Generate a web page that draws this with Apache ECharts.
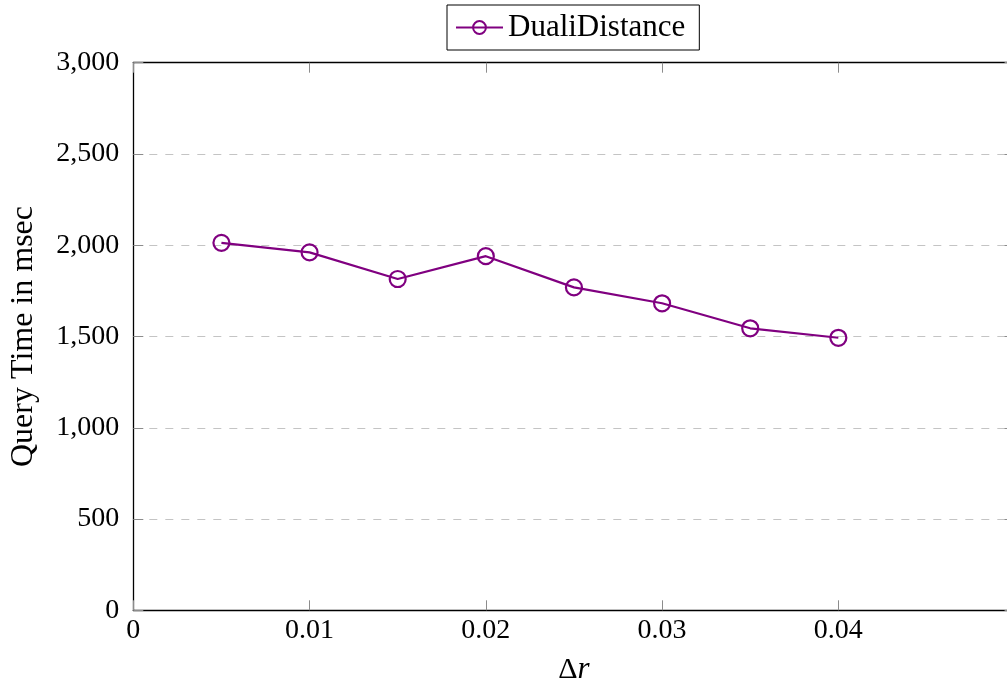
<!DOCTYPE html>
<html>
<head>
<meta charset="utf-8">
<script src="https://cdn.jsdelivr.net/npm/echarts@6/dist/echarts.min.js"></script>
<style>
  html, body { margin: 0; padding: 0; background: #fff; overflow: hidden; width: 1007px; height: 686px; }
  /* the plot box runs a little past the right edge of the page */
  #chart { width: 1020px; height: 686px; }
</style>
</head>
<body>
<div id="chart"></div>
<script>
// Query time for DualiDistance as the radius step Δr grows
const deltaR = [0.005, 0.01, 0.015, 0.02, 0.025, 0.03, 0.035, 0.04];
const queryTimeMs = [2013, 1961, 1815, 1940, 1769, 1682, 1545, 1493];
const seriesName = 'DualiDistance';

const FONT = '"Liberation Serif", "DejaVu Serif", serif';
const PURPLE = '#800080';

const chart = echarts.init(document.getElementById('chart'), null, { renderer: 'canvas' });

// short grey ticks pointing into the plot, mirrored on all four sides
const tickStyle = { show: true, inside: true, length: 10, lineStyle: { color: '#8c8c8c', width: 1 } };

chart.setOption({
  animation: false,
  backgroundColor: '#fff',
  textStyle: { fontFamily: FONT },
  legend: {
    top: 5,
    left: 447,
    padding: [7, 14, 7, 8],
    borderColor: '#000',
    borderWidth: 1,
    borderRadius: 0,
    itemWidth: 47,
    itemHeight: 16,
    itemGap: 6,
    textStyle: { fontFamily: FONT, fontSize: 31, color: '#000' },
    data: [seriesName]
  },
  grid: { left: 133.3, top: 62.7, bottom: 75.7, right: 5.4, containLabel: false, outerBoundsMode: 'none' },
  xAxis: [
    {
      type: 'value',
      min: 0, max: 0.05, interval: 0.01,
      name: '{d|Δ}{r|r}',
      nameLocation: 'middle',
      nameGap: 44,
      nameTextStyle: {
        rich: {
          d: { fontFamily: FONT, fontSize: 30, color: '#000' },
          r: { fontFamily: FONT, fontSize: 31, fontStyle: 'italic', color: '#000' }
        }
      },
      axisLine: { show: true, lineStyle: { color: '#000', width: 1.3 } },
      axisTick: tickStyle,
      splitLine: { show: false },
      axisLabel: {
        showMaxLabel: false,
        margin: 6,
        fontFamily: FONT, fontSize: 28, color: '#000',
        formatter: v => (v === 0 ? '0' : String(+v.toFixed(2)))
      }
    },
    {
      type: 'value',
      position: 'top',
      min: 0, max: 0.05, interval: 0.01,
      axisLine: { show: true, onZero: false, lineStyle: { color: '#000', width: 1.3 } },
      axisTick: tickStyle,
      axisLabel: { show: false },
      splitLine: { show: false }
    }
  ],
  yAxis: [
    {
      type: 'value',
      min: 0, max: 3000, interval: 500,
      name: 'Query Time in msec',
      nameLocation: 'middle',
      nameGap: 94,
      nameTextStyle: { fontFamily: FONT, fontSize: 32, color: '#000' },
      axisLine: { show: true, lineStyle: { color: '#000', width: 1.3 } },
      axisTick: tickStyle,
      splitLine: {
        show: true,
        lineStyle: { color: '#c4c4c4', width: 1, type: [8, 8] }
      },
      axisLabel: {
        margin: 14,
        fontFamily: FONT, fontSize: 28, color: '#000',
        formatter: v => v.toLocaleString('en-US')
      }
    },
    {
      type: 'value',
      position: 'right',
      min: 0, max: 3000, interval: 500,
      axisLine: { show: true, onZero: false, lineStyle: { color: '#000', width: 1.3 } },
      axisTick: tickStyle,
      axisLabel: { show: false },
      splitLine: { show: false }
    }
  ],
  series: [
    {
      name: seriesName,
      type: 'line',
      data: deltaR.map((x, i) => [x, queryTimeMs[i]]),
      symbol: 'circle',
      symbolSize: 16,
      lineStyle: { color: PURPLE, width: 2.2 },
      itemStyle: { color: 'rgba(255,255,255,0)', borderColor: PURPLE, borderWidth: 2.2 },
      z: 3
    }
  ]
});
</script>
</body>
</html>
